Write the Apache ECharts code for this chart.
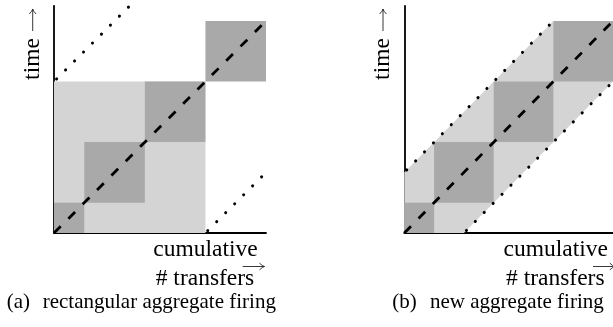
<!DOCTYPE html>
<html>
<head>
<meta charset="utf-8">
<script src="https://cdn.jsdelivr.net/npm/echarts@6/dist/echarts.min.js"></script>
<style>
html,body{margin:0;padding:0;background:#fff;}
#c{width:613px;height:327px;}
</style>
</head>
<body>
<div id="c"></div>
<script>
// ---- data (in chart units) ----
const leftLight = [[0,0],[5,0],[5,5],[0,5]];
const leftDark = [[0,0,1,1],[1,1,3,3],[3,3,5,5],[5,5,7,7]];
const leftUpperDotted = [[0,5],[2.5,7.5]];
const leftLowerDotted = [[5,0],[7,2]];
const leftDiagonal = [[0,0],[7,7]];

const rightLight = [[0,0],[2,0],[7,5],[7,7],[5,7],[0,2]];
const rightDark = [[0,0,1,1],[1,1,3,3],[3,3,5,5],[5,5,7,7]];
const rightUpperDotted = [[0,2],[5,7]];
const rightLowerDotted = [[2,0],[7,5]];
const rightDiagonal = [[0,0],[7,7]];

const yLabel = 'time';
const xLabel1 = 'cumulative';
const xLabel2 = '# transfers';
const captionA = ['(a)', 'rectangular aggregate firing'];
const captionB = ['(b)', 'new aggregate firing'];

// ---- styles ----
const DARK = '#a9a9a9';
const LIGHT = '#d4d4d4';
const FONT = '"Liberation Serif", "Times New Roman", serif';

function polySeries(gridIdx, pts, color) {
  return {
    type: 'custom', xAxisIndex: gridIdx, yAxisIndex: gridIdx, z: 1,
    data: [0], clip: false, silent: true,
    renderItem: function (params, api) {
      return { type: 'polygon', shape: { points: pts.map(p => api.coord(p)) },
               style: { fill: color, stroke: null } };
    }
  };
}
function rectSeries(gridIdx, rects, color) {
  return {
    type: 'custom', xAxisIndex: gridIdx, yAxisIndex: gridIdx, z: 2,
    data: rects, clip: false, silent: true,
    renderItem: function (params, api) {
      const p0 = api.coord([api.value(0), api.value(1)]);
      const p1 = api.coord([api.value(2), api.value(3)]);
      return { type: 'rect',
               shape: { x: p0[0], y: p1[1], width: p1[0] - p0[0], height: p0[1] - p1[1] },
               style: { fill: color, stroke: null } };
    }
  };
}
function dottedSeries(gridIdx, pts, offset) {
  return {
    type: 'line', xAxisIndex: gridIdx, yAxisIndex: gridIdx, z: 3,
    data: pts, symbol: 'none', silent: true, clip: false,
    lineStyle: { color: '#000', width: 3, type: [0.1, 12.6], cap: 'round', dashOffset: offset }
  };
}
function dashedSeries(gridIdx, pts) {
  return {
    type: 'line', xAxisIndex: gridIdx, yAxisIndex: gridIdx, z: 4,
    data: pts, symbol: 'none', silent: true, clip: true,
    lineStyle: { color: '#000', width: 2.8, type: [9.5, 10.8], cap: 'butt', dashOffset: 0 }
  };
}
function axisX(gridIdx) {
  return { type: 'value', gridIndex: gridIdx, min: 0, max: 7,
    axisLine: { show: true, onZero: false, lineStyle: { color: '#000', width: 1.8 } },
    axisTick: { show: false }, axisLabel: { show: false }, splitLine: { show: false } };
}
function axisY(gridIdx) {
  return { type: 'value', gridIndex: gridIdx, min: 0, max: 7.5,
    axisLine: { show: true, onZero: false, lineStyle: { color: '#000', width: 1.8 } },
    axisTick: { show: false }, axisLabel: { show: false }, splitLine: { show: false } };
}
function txt(x, y, s, size, align, rot) {
  return { type: 'text', x: x, y: y, rotation: rot || 0, silent: true,
    style: { text: s, fill: '#000', font: size + 'px ' + FONT,
             align: align || 'center', verticalAlign: 'middle' } };
}
const ARROW_STYLE = { stroke: '#222', lineWidth: 0.9, fill: null };
// thin LaTeX-like arrow pointing right
function hArrow(x0, x1, y) {
  return [
    { type: 'line', silent: true, shape: { x1: x0, y1: y, x2: x1, y2: y }, style: ARROW_STYLE },
    { type: 'polyline', silent: true,
      shape: { points: [[x1 - 5, y - 3.4], [x1 - 2.2, y - 1], [x1, y], [x1 - 2.2, y + 1], [x1 - 5, y + 3.4]] },
      style: ARROW_STYLE }
  ];
}
// thin arrow pointing up
function vArrow(x, y0, y1) {
  return [
    { type: 'line', silent: true, shape: { x1: x, y1: y0, x2: x, y2: y1 }, style: ARROW_STYLE },
    { type: 'polyline', silent: true,
      shape: { points: [[x - 3.4, y1 + 5], [x - 1, y1 + 2.2], [x, y1], [x + 1, y1 + 2.2], [x + 3.4, y1 + 5]] },
      style: ARROW_STYLE }
  ];
}

const chart = echarts.init(document.getElementById('c'), null, { renderer: 'canvas' });
const PANEL_SHIFT = 350.3;
chart.setOption({
  animation: false,
  backgroundColor: '#fff',
  grid: [
    { left: 54, top: 5.8, width: 212, height: 227.2 },
    { left: 54 + PANEL_SHIFT, top: 5.8, width: 212, height: 227.2 }
  ],
  xAxis: [axisX(0), axisX(1)],
  yAxis: [axisY(0), axisY(1)],
  series: [
    polySeries(0, leftLight, LIGHT),
    rectSeries(0, leftDark, DARK),
    dottedSeries(0, leftUpperDotted, 9.1),
    dottedSeries(0, leftLowerDotted, 9.5),
    dashedSeries(0, leftDiagonal),
    polySeries(1, rightLight, LIGHT),
    rectSeries(1, rightDark, DARK),
    dottedSeries(1, rightUpperDotted, 9.3),
    dottedSeries(1, rightLowerDotted, 9.2),
    dashedSeries(1, rightDiagonal)
  ],
  graphic: [
    txt(33, 59, yLabel, 23.5, 'center', Math.PI / 2),
    txt(33 + PANEL_SHIFT, 59, yLabel, 23.5, 'center', Math.PI / 2),
    ...vArrow(32.7, 31, 9),
    ...vArrow(32.7 + PANEL_SHIFT, 31, 9),
    txt(205.5, 249.5, xLabel1, 23.5, 'center'),
    txt(205, 279.3, xLabel2, 23.5, 'center'),
    ...hArrow(242.7, 264.5, 266.5),
    txt(205.5 + PANEL_SHIFT, 249.5, xLabel1, 23.5, 'center'),
    txt(205 + PANEL_SHIFT, 279.3, xLabel2, 23.5, 'center'),
    ...hArrow(242.7 + PANEL_SHIFT, 264.5 + PANEL_SHIFT, 266.5),
    txt(6.7, 302.3, captionA[0], 21, 'left'),
    txt(42.7, 302.3, captionA[1], 21, 'left'),
    txt(392.3, 302.3, captionB[0], 21, 'left'),
    txt(430, 302.3, captionB[1], 21, 'left')
  ]
});
</script>
</body>
</html>
